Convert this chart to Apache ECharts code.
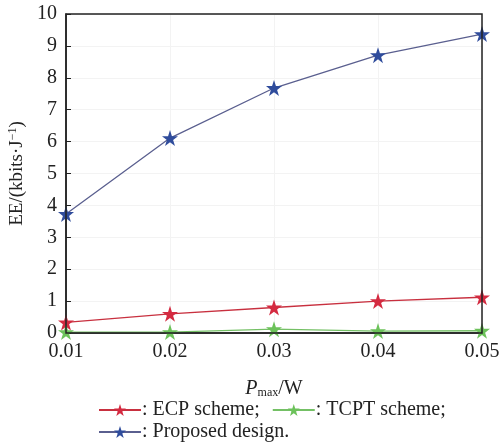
<!DOCTYPE html>
<html><head><meta charset="utf-8">
<script src="https://cdn.jsdelivr.net/npm/echarts@6/dist/echarts.min.js"></script>
<style>html,body{margin:0;padding:0;background:#fff}#c{width:500px;height:443px}</style>
</head><body><div id="c"></div>
<script>
const categories = ['0.01','0.02','0.03','0.04','0.05'];
const ecp = [0.33, 0.60, 0.80, 1.00, 1.12];
const tcpt = [0.03, 0.03, 0.12, 0.06, 0.07];
const proposed = [3.73, 6.11, 7.68, 8.71, 9.37];
const yTicks = [0,1,2,3,4,5,6,7,8,9,10];

const star = 'path://M50,0 L61.8,35.1 L98.9,35.1 L69,56.9 L80.4,92 L50,70.2 L19.6,92 L31,56.9 L1.1,35.1 L38.2,35.1 Z';
const font = 'Liberation Serif';
const chart = echarts.init(document.getElementById('c'));
function s(name, data, lc, sc) {
  return {name, type:'line', data, symbol: star, symbolSize: 16,
    lineStyle:{color: lc, width:1.3}, itemStyle:{color: sc}, z: 3};
}
chart.setOption({
  animation:false,
  textStyle:{fontFamily: font},
  grid:{left:66, right:18, top:14, bottom:110, containLabel:false, outerBoundsMode:'none'},
  legend:[{
    data:['ECP scheme','TCPT scheme'], left:93, top:395, itemWidth:42, itemHeight:15, itemGap:12,
    textStyle:{fontFamily:font, fontSize:20, color:'#222', padding:[0,0,0,-4]},
    formatter: n => ': ' + n + ';'
  },{
    data:['Proposed design'], left:93, top:417, itemWidth:42, itemHeight:15,
    textStyle:{fontFamily:font, fontSize:20, color:'#222', padding:[0,0,0,-4]},
    formatter: n => ': ' + n + '.'
  }],
  xAxis:{type:'category', data:categories, boundaryGap:false,
    name:'{i|P}{sub|max}{n|/W}', nameLocation:'middle', nameGap:45,
    nameTextStyle:{rich:{i:{fontFamily:font,fontStyle:'italic',fontSize:20,color:'#222'},
      sub:{fontFamily:font,fontSize:12,color:'#222',padding:[9,0,0,0]},
      n:{fontFamily:font,fontSize:20,color:'#222'}}},
    axisLine:{lineStyle:{color:'#222', width:1.5}},
    axisTick:{show:false},
    axisLabel:{fontFamily:font, fontSize:20, color:'#222', margin:9},
    splitLine:{show:true, lineStyle:{color:'#f3f3f3'}}
  },
  yAxis:{type:'value', min:0, max:10, interval:1,
    name:'{n|EE/(kbits·J}{sup|−1}{n|)}', nameLocation:'middle', nameGap:39,
    nameTextStyle:{rich:{n:{fontFamily:font,fontSize:19,color:'#222'},
      sup:{fontFamily:font,fontSize:12,color:'#222',padding:[0,0,8,0]}}},
    axisLine:{show:true, lineStyle:{color:'#222', width:1.5}},
    axisTick:{show:true, inside:true, length:5, lineStyle:{color:'#222'}},
    axisLabel:{fontFamily:font, fontSize:20, color:'#222', margin:9, formatter: v => yTicks.includes(v) ? String(v) : ''},
    splitLine:{show:true, lineStyle:{color:'#f3f3f3'}}
  },
  graphic:[{type:'rect', shape:{x:66, y:14, width:416, height:319}, style:{fill:'none', stroke:'#222', lineWidth:1.5}, z:10, silent:true}],
  series:[
    s('ECP scheme', ecp, '#c8303f', '#d42a40'),
    s('TCPT scheme', tcpt, '#74c065', '#6cc25a'),
    s('Proposed design', proposed, '#5a5f8f', '#2f4c9c')
  ]
});
</script></body></html>
